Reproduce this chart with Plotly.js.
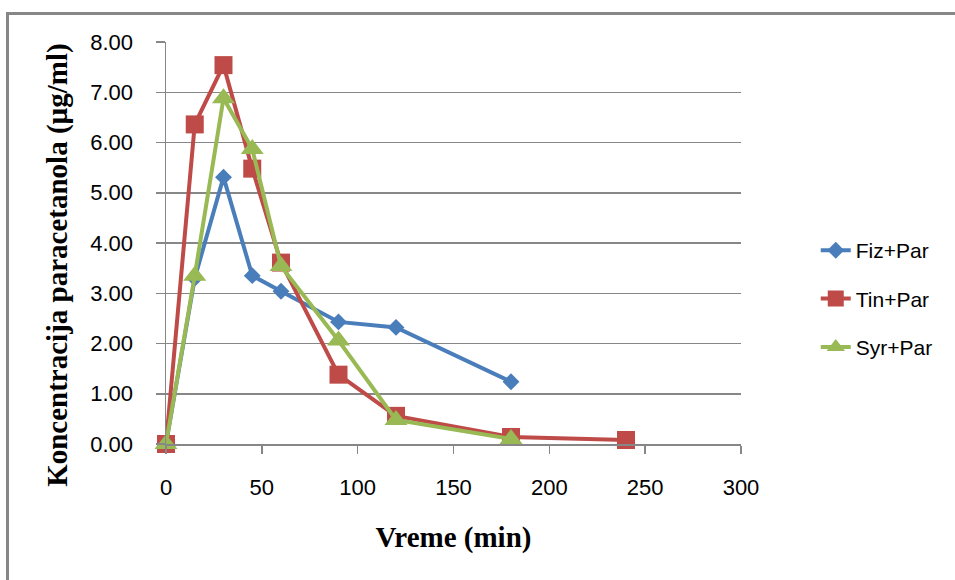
<!DOCTYPE html>
<html>
<head>
<meta charset="utf-8">
<script src="https://cdn.plot.ly/plotly-3.0.1.min.js"></script>
<style>
  html, body { margin: 0; padding: 0; overflow: hidden; background: #ffffff; }
  #frame {
    position: absolute; left: 6px; top: 12px; width: 2000px; height: 2000px;
    border-left: 3px solid #878787; border-top: 3px solid #878787;
  }
  #chart { position: absolute; left: 0; top: 0; width: 955px; height: 580px; }
</style>
</head>
<body>
<div id="frame"></div>
<div id="chart"></div>
<script>
// Sampling times (min)
const timeFiz = [0, 15, 30, 45, 60, 90, 120, 180];
const timeTin = [0, 15, 30, 45, 60, 90, 120, 180, 240];
const timeSyr = [0, 15, 30, 45, 60, 90, 120, 180];

// Paracetamol concentration (µg/ml)
const concFiz = [0, 3.30, 5.31, 3.35, 3.04, 2.43, 2.32, 1.24];
const concTin = [0, 6.36, 7.54, 5.48, 3.61, 1.38, 0.56, 0.14, 0.08];
const concSyr = [0, 3.35, 6.88, 5.87, 3.54, 2.06, 0.48, 0.10];

const seriesNames = ['Fiz+Par', 'Tin+Par', 'Syr+Par'];
const xTicks = [0, 50, 100, 150, 200, 250, 300];
const yTicks = [0, 1, 2, 3, 4, 5, 6, 7, 8];

const gridGray = '#878787';

const traces = [
  {
    x: timeFiz, y: concFiz, name: seriesNames[0], legendgroup: 'a',
    mode: 'lines+markers', type: 'scatter', cliponaxis: false,
    line: { color: '#4A7EBB', width: 4 },
    marker: { symbol: 'diamond', size: 13, color: '#4A7EBB' }
  },
  {
    x: timeTin, y: concTin, name: seriesNames[1], legendgroup: 'b',
    mode: 'lines+markers', type: 'scatter', cliponaxis: false,
    line: { color: '#BE4B48', width: 4 },
    marker: { symbol: 'square', size: 18, color: '#BE4B48' }
  },
  {
    x: timeSyr, y: concSyr, name: seriesNames[2], legendgroup: 'c',
    mode: 'lines+markers', type: 'scatter', cliponaxis: false,
    line: { color: '#98B954', width: 4 },
    marker: { symbol: 'triangle-up', size: 20, color: '#98B954' }
  }
];

const layout = {
  width: 955, height: 580,
  margin: { l: 166, r: 214, t: 42, b: 136 },
  paper_bgcolor: 'rgba(0,0,0,0)',
  plot_bgcolor: '#ffffff',
  showlegend: true,
  font: { family: 'Liberation Sans, Arial, sans-serif', color: '#000000' },
  xaxis: {
    range: [0, 300], tickvals: xTicks, ticktext: xTicks.map(String),
    showgrid: false, zeroline: false,
    showline: true, linecolor: gridGray, linewidth: 1.5,
    ticks: 'outside', ticklen: 8, tickwidth: 1.5, tickcolor: gridGray,
    ticklabelstandoff: 15,
    tickfont: { size: 22, family: 'Liberation Sans, Arial, sans-serif' },
    title: {
      text: 'Vreme (min)', standoff: 28,
      font: { family: 'Liberation Serif, Times New Roman, serif', size: 29, weight: 'bold' }
    }
  },
  yaxis: {
    range: [0, 8], tickvals: yTicks, ticktext: yTicks.map(v => v.toFixed(2)),
    showgrid: true, gridcolor: gridGray, gridwidth: 1.5, zeroline: false,
    showline: true, linecolor: gridGray, linewidth: 1.5,
    ticks: 'outside', ticklen: 9, tickwidth: 1.5, tickcolor: gridGray,
    ticklabelstandoff: 18,
    tickfont: { size: 22, family: 'Liberation Sans, Arial, sans-serif' }
  },
  annotations: [
    {
      text: 'Koncentracija paracetanola (µg/ml)',
      xref: 'paper', yref: 'paper', x: -0.19, y: 0.445,
      xanchor: 'center', yanchor: 'middle', textangle: -90, showarrow: false,
      font: { family: 'Liberation Serif, Times New Roman, serif', size: 29, weight: 'bold', color: '#000000' }
    }
  ],
  legend: {
    x: 1.13, y: 0.532, xanchor: 'left', yanchor: 'top',
    traceorder: 'grouped', tracegroupgap: 18,
    borderwidth: 0, bgcolor: 'rgba(0,0,0,0)',
    font: { size: 21, family: 'Liberation Sans, Arial, sans-serif' }
  }
};

Plotly.newPlot('chart', traces, layout, { displayModeBar: false, staticPlot: true });
</script>
</body>
</html>
